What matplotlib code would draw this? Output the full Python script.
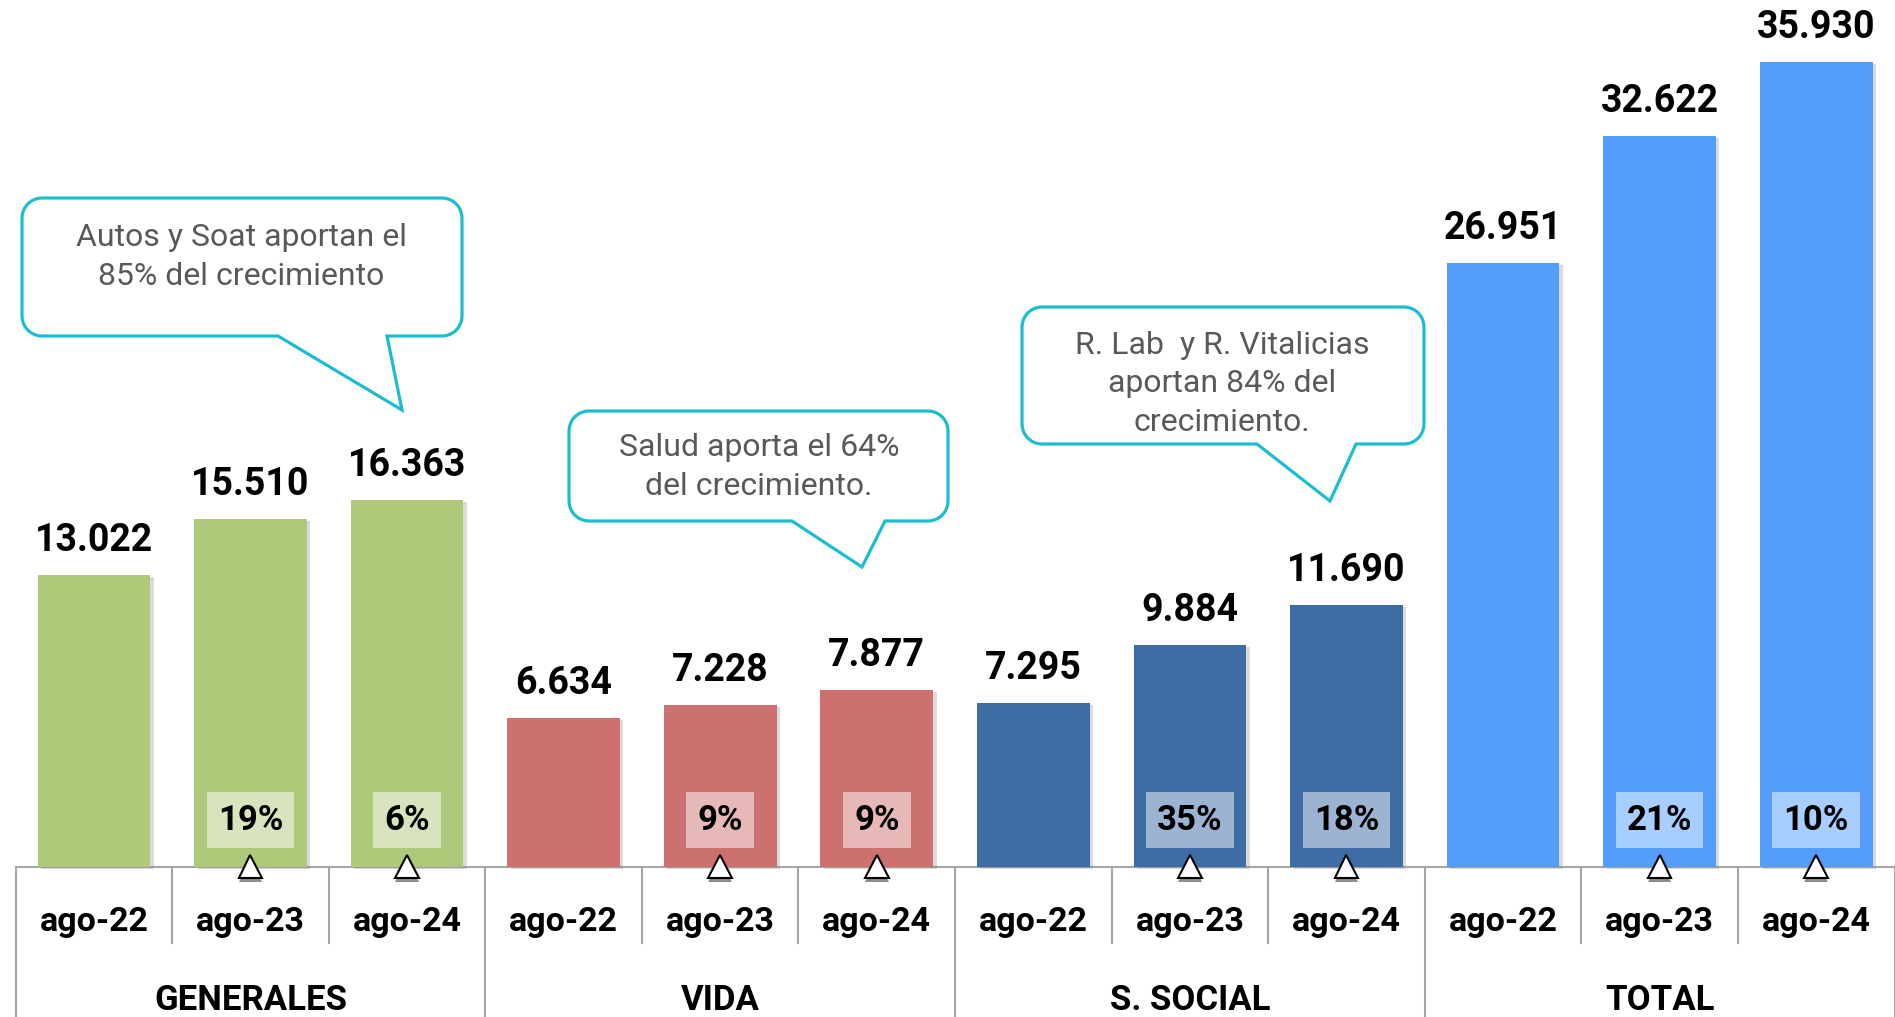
import numpy as np
import matplotlib
matplotlib.use("Agg")
import matplotlib.pyplot as plt
import matplotlib.patheffects as pe
from matplotlib.patches import Polygon

# datos
grupos = ["GENERALES", "VIDA", "S. SOCIAL", "TOTAL"]
periodos = ["ago-22", "ago-23", "ago-24"]
generales = [13022, 15510, 16363]
vida = [6634, 7228, 7877]
social = [7295, 9884, 11690]
total = [26951, 32622, 35930]
crec_generales = ["19%", "6%"]
crec_vida = ["9%", "9%"]
crec_social = ["35%", "18%"]
crec_total = ["21%", "10%"]

colores = ["#afc97b", "#cc7170", "#3e6da6", "#559dfd"]
colores_badge = ["#d8e4bd", "#e6b8b7", "#9db3d2", "#a8cdff"]

notas = [
    "Autos y Soat aportan el\n85% del crecimiento",
    "Salud aporta el 64%\ndel crecimiento.",
    "R. Lab  y R. Vitalicias\naportan 84% del\ncrecimiento.",
]

W, H = 1895, 1017
fig = plt.figure(figsize=(W / 100, H / 100), dpi=100)
x_izq, x_der = 15.6, 1894.5
ax = fig.add_axes([x_izq / W, 0, (x_der - x_izq) / W, 1])
base_px = 866.5
esc = 0.0224  # px por unidad
ax.set_ylim(-(H - base_px) / esc, base_px / esc)
ax.set_xlim(-0.5, 11.5)
ax.axis("off")


def py(p):  # pixel (desde arriba) -> valor en eje y
    return (base_px - p) / esc


valores = [generales, vida, social, total]
crecimientos = [crec_generales, crec_vida, crec_social, crec_total]
sombra = [pe.SimplePatchShadow(offset=(2.5, -1.5), shadow_rgbFace="#888888", alpha=0.3), pe.Normal()]

for g in range(4):
    xs = np.arange(3) + 3 * g
    barras = ax.bar(xs, valores[g], width=0.72, color=colores[g], zorder=2)
    for b in barras:
        b.set_path_effects(sombra)
    for x, v in zip(xs, valores[g]):
        ax.annotate(f"{v:,}".replace(",", "."), (x, v), xytext=(0, 17), textcoords="offset points",
                    ha="center", va="baseline", fontsize=27, fontweight="bold",
                    family="Roboto", color="black", zorder=5)
    for x, t in zip(xs[1:], crecimientos[g]):
        ax.text(x, py(820), t, ha="center", va="center", fontsize=25, fontweight="bold",
                family="Roboto", color="black", zorder=4,
                bbox=dict(boxstyle="square,pad=0.32", fc=colores_badge[g], ec="none"))
    ax.plot(xs[1:], [0, 0], ls="none", marker="^", ms=17, mfc="white", mec="black", mew=1.5,
            zorder=6, clip_on=False,
            path_effects=[pe.SimplePatchShadow(offset=(0, -3), shadow_rgbFace="black", alpha=0.45),
                          pe.Normal()])
    for x, p in zip(xs, periodos):
        ax.text(x, py(922), p, ha="center", va="center", fontsize=24.5, fontweight="bold",
                family="Roboto", color="black")
    ax.text(xs[1], py(1001), grupos[g], ha="center", va="center", fontsize=25,
            fontweight="bold", family="Roboto", color="black")

# lineas del eje
ax.axhline(0, color="#a6a6a6", lw=1.5, zorder=1, clip_on=False)
for i in range(13):
    xl = i - 0.5
    fondo = py(H) if i % 3 == 0 else py(943)
    ax.plot([xl, xl], [0, fondo], color="#a6a6a6", lw=1.5, zorder=1, clip_on=False)


# globos de texto
def globo(x0, y0, x1, y1, ta, tb, apex, r=20):
    pts = []
    def arco(cx, cy, a0, a1):
        for a in np.linspace(a0, a1, 10):
            pts.append((cx + r * np.cos(a), cy + r * np.sin(a)))
    arco(x0 + r, y0 + r, np.pi, 1.5 * np.pi)
    arco(x1 - r, y0 + r, 1.5 * np.pi, 2 * np.pi)
    arco(x1 - r, y1 - r, 0, 0.5 * np.pi)
    pts += [(tb, y1), apex, (ta, y1)]
    arco(x0 + r, y1 - r, 0.5 * np.pi, np.pi)
    pts = [(px / W, 1 - pp / H) for px, pp in pts]
    fig.patches.append(Polygon(pts, closed=True, fc="white", ec="#1cbdcf", lw=2.3,
                               transform=fig.transFigure, zorder=3))


globo(22, 198, 462, 336, 278, 387, (402, 410))
globo(569, 411, 948, 521, 792, 885, (862, 567))
globo(1022, 307, 1424, 444, 1257, 1356, (1330, 501))

for (cx, cy), t in zip([(241, 257), (759, 467), (1222, 384)], notas):
    fig.text(cx / W, 1 - cy / H, t, ha="center", va="center", fontsize=23, family="Roboto",
             color="#595959", linespacing=1.42, zorder=4)

fig.savefig("out.png", dpi=100)
